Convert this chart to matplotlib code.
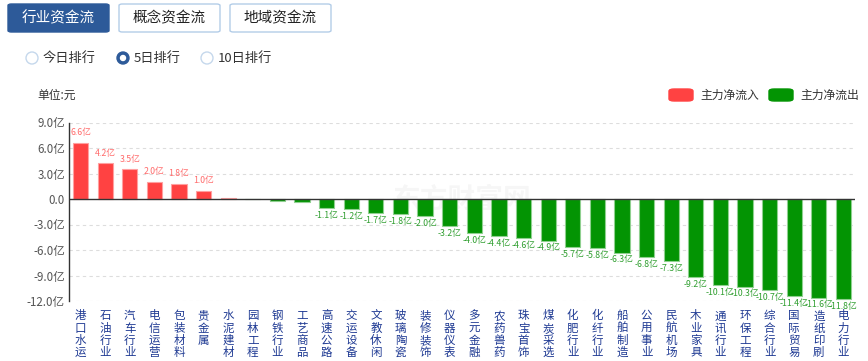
import matplotlib
matplotlib.use("Agg")
import matplotlib.pyplot as plt
from matplotlib.patches import FancyBboxPatch, Ellipse

plt.rcParams['font.family'] = ['Noto Sans CJK SC', 'DejaVu Sans']

# data (unit: 亿元, 5-day net main inflow)
industries = ['港口水运', '石油行业', '汽车行业', '电信运营', '包装材料', '贵金属',
              '水泥建材', '园林工程', '钢铁行业', '工艺商品', '高速公路', '交运设备',
              '文教休闲', '玻璃陶瓷', '装修装饰', '仪器仪表', '多元金融', '农药兽药',
              '珠宝首饰', '煤炭采选', '化肥行业', '化纤行业', '船舶制造', '公用事业',
              '民航机场', '木业家具', '通讯行业', '环保工程', '综合行业', '国际贸易',
              '造纸印刷', '电力行业']
net_flow = [6.6, 4.2, 3.5, 2.0, 1.8, 1.0,
            0.15, -0.05, -0.2, -0.35, -1.1, -1.2,
            -1.7, -1.8, -2.0, -3.2, -4.0, -4.4,
            -4.6, -4.9, -5.7, -5.8, -6.3, -6.8,
            -7.3, -9.2, -10.1, -10.3, -10.7, -11.4,
            -11.6, -11.8]
y_ticks = [9, 6, 3, 0, -3, -6, -9, -12]
tabs = ['行业资金流', '概念资金流', '地域资金流']
ranks = ['今日排行', '5日排行', '10日排行']

RED = '#ff4242'
GREEN = '#039403'
W, H = 868, 361

fig = plt.figure(figsize=(W / 100, H / 100), dpi=100)
ax = fig.add_axes([69 / W, 1 - 301 / H, (855 - 69) / W, (301 - 122.5) / H])

x = list(range(len(industries)))
colors = [RED if v >= 0 else GREEN for v in net_flow]
edges = ['#ffa0a0' if v >= 0 else '#8fd08f' for v in net_flow]
ax.bar(x, net_flow, width=0.62, color=colors, edgecolor=edges, linewidth=0.8, zorder=3)

for i, v in enumerate(net_flow):
    if abs(v) < 1:
        continue
    lab = '%.1f亿' % v
    if v > 0:
        ax.annotate(lab, (i, v), xytext=(0, 4), textcoords='offset points',
                    ha='center', va='bottom', fontsize=6.3, color='#ff6b6b')
    else:
        ax.annotate(lab, (i, v), xytext=(0, -2), textcoords='offset points',
                    ha='center', va='top', fontsize=6.3, color='#2f9e2f')

ax.set_xlim(-0.47, len(industries) - 0.53)
ax.set_ylim(-12, 9)
ax.set_yticks(y_ticks)
ax.set_yticklabels(['%.1f亿' % t if t != 0 else '0.0' for t in y_ticks],
                   fontsize=8.3, color='#555555')
ax.set_xticks(x)
ax.set_xticklabels(['\n'.join(n) for n in industries], fontsize=8.3,
                   color='#1f3a93', linespacing=0.92, va='top')
ax.tick_params(axis='x', length=0, pad=6)
ax.tick_params(axis='y', length=0, pad=3)

for t in y_ticks:
    if t != 0:
        ax.axhline(t, color='#dddddd', linestyle=(0, (3, 3)), linewidth=0.8, zorder=1)
ax.axhline(0, color='#333333', linewidth=1.0, zorder=4)

for s in ['top', 'right', 'bottom']:
    ax.spines[s].set_visible(False)
ax.spines['left'].set_color('#333333')
ax.spines['left'].set_linewidth(1.0)

# faint watermark
ax.text(0.5, 0.57, '东方财富网', transform=ax.transAxes, ha='center', va='center',
        fontsize=20, color='#000000', alpha=0.035, fontweight='bold', zorder=2)

fig.text(37 / W, 1 - 95 / H, '单位:元', fontsize=8.5, color='#333333', va='center')

# legend
fig.patches.append(FancyBboxPatch((669 / W, 1 - 101 / H), 24 / W, 12 / H,
                                  boxstyle='round,pad=0,rounding_size=0.006',
                                  transform=fig.transFigure, color=RED))
fig.text(700 / W, 1 - 95 / H, '主力净流入', fontsize=8.5, color='#333333', va='center')
fig.patches.append(FancyBboxPatch((769 / W, 1 - 101 / H), 24 / W, 12 / H,
                                  boxstyle='round,pad=0,rounding_size=0.006',
                                  transform=fig.transFigure, color=GREEN))
fig.text(800 / W, 1 - 95 / H, '主力净流出', fontsize=8.5, color='#333333', va='center')

# tabs
for k, name in enumerate(tabs):
    x0 = 8 + k * 111
    active = k == 0
    fig.patches.append(FancyBboxPatch((x0 / W, 1 - 32 / H), 101 / W, 28 / H,
                                      boxstyle='round,pad=0,rounding_size=0.004',
                                      transform=fig.transFigure,
                                      facecolor='#2d5a99' if active else 'white',
                                      edgecolor='#2d5a99' if active else '#b3cde8',
                                      linewidth=1))
    fig.text((x0 + 50.5) / W, 1 - 18 / H, name, ha='center', va='center',
             fontsize=10.5, color='white' if active else '#222222')

# radio buttons
radio_x = [32, 123, 207]
for k, name in enumerate(ranks):
    cx = radio_x[k] / W
    cy = 1 - 58 / H
    if k == 1:
        fig.patches.append(Ellipse((cx, cy), 12 / W, 12 / H, transform=fig.transFigure,
                                   facecolor='#2d5a99', edgecolor='#2d5a99'))
        fig.patches.append(Ellipse((cx, cy), 5 / W, 5 / H, transform=fig.transFigure,
                                   facecolor='white', edgecolor='white'))
    else:
        fig.patches.append(Ellipse((cx, cy), 12 / W, 12 / H, transform=fig.transFigure,
                                   facecolor='white', edgecolor='#c5d8ec', linewidth=1))
    fig.text(cx + 11 / W, cy, name, va='center', fontsize=9.5, color='#333333')

fig.savefig('out.png', dpi=100)
